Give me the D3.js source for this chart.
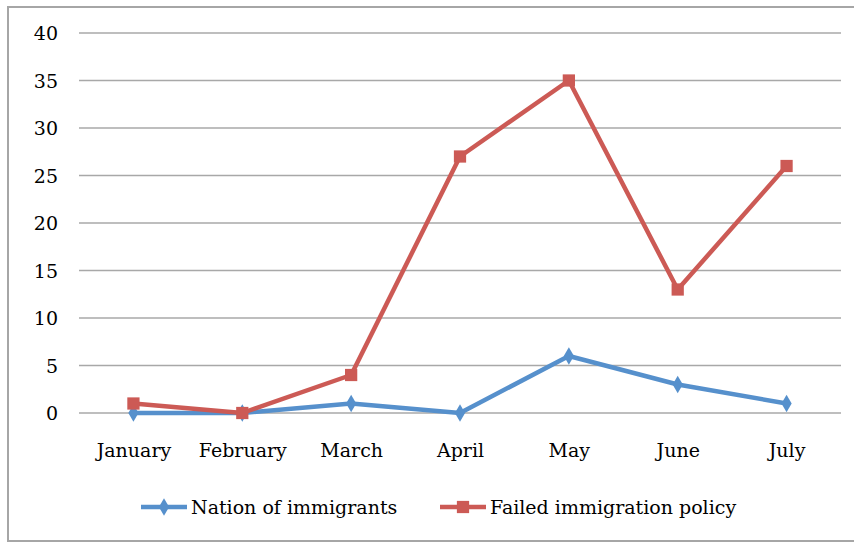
<!DOCTYPE html>
<html><head><meta charset="utf-8">
<script src="https://cdn.jsdelivr.net/npm/d3@7"></script>
<style>body{margin:0;background:#fff}svg{display:block}text{font-family:"DejaVu Serif",serif;fill:#000}</style>
</head><body>
<script>
const months = ["January","February","March","April","May","June","July"];
const nationValues = [0,0,1,0,6,3,1];
const failedValues = [1,0,4,27,35,13,26];
const yTicks = [0,5,10,15,20,25,30,35,40];
const seriesNames = ["Nation of immigrants","Failed immigration policy"];

(function(){
const W=854,H=544;
const svg=d3.select("body").append("svg").attr("width",W).attr("height",H);
svg.append("rect").attr("x",8).attr("y",7).attr("width",W-8+2).attr("height",534).attr("fill","#fff").attr("stroke","#a6a6a6").attr("stroke-width",2);

const pLeft=79,pRight=841,pTop=33,pBottom=413;
const x=d3.scalePoint().domain(months).range([pLeft,pRight]).padding(0.5);
const y=d3.scaleLinear().domain([0,40]).range([pBottom,pTop]);

const grid=svg.append("g");
grid.selectAll("line").data(yTicks).join("line")
 .attr("x1",pLeft).attr("x2",pRight).attr("y1",d=>y(d)).attr("y2",d=>y(d))
 .attr("stroke","#a8a8a8").attr("stroke-width",1.5);

const fs=19;
const yAxis=svg.append("g").attr("transform",`translate(${pLeft},0)`).call(d3.axisLeft(y).tickValues(yTicks).tickSize(0).tickPadding(21));
yAxis.select(".domain").remove();
yAxis.selectAll("text").attr("font-size",fs).attr("font-family","DejaVu Serif").attr("dy","0.35em");

const xAxis=svg.append("g").attr("transform",`translate(0,${pBottom})`).call(d3.axisBottom(x).tickSize(0).tickPadding(31));
xAxis.select(".domain").remove();
xAxis.selectAll("text").attr("font-size",fs).attr("font-family","DejaVu Serif");

const line=d3.line().x((d,i)=>x(months[i])).y(d=>y(d));
const blue="#5690cc", red="#cc5a55";
svg.append("path").datum(nationValues).attr("d",line).attr("fill","none").attr("stroke",blue).attr("stroke-width",4.5).attr("stroke-linejoin","round");
svg.append("path").datum(failedValues).attr("d",line).attr("fill","none").attr("stroke",red).attr("stroke-width",4.5).attr("stroke-linejoin","round");

const diamond=d3.symbol().type(d3.symbolDiamond).size(90);
const square=d3.symbol().type(d3.symbolSquare).size(150);
svg.selectAll(".nm").data(nationValues).join("path").attr("class","nm")
 .attr("d",diamond).attr("transform",(d,i)=>`translate(${x(months[i])},${y(d)})`).attr("fill",blue);
svg.selectAll(".fm").data(failedValues).join("path").attr("class","fm")
 .attr("d",square).attr("transform",(d,i)=>`translate(${x(months[i])},${y(d)})`).attr("fill",red);

const leg=[{name:seriesNames[0],c:blue,sym:diamond,x0:141},{name:seriesNames[1],c:red,sym:square,x0:440}];
const ly=507;
leg.forEach(l=>{
  svg.append("line").attr("x1",l.x0).attr("x2",l.x0+46).attr("y1",ly).attr("y2",ly).attr("stroke",l.c).attr("stroke-width",4.5);
  svg.append("path").attr("d",l.sym).attr("transform",`translate(${l.x0+23},${ly})`).attr("fill",l.c);
  svg.append("text").attr("x",l.x0+50).attr("y",ly).attr("dy","0.38em").attr("font-size",fs).text(l.name);
});
})();
</script>
</body></html>
